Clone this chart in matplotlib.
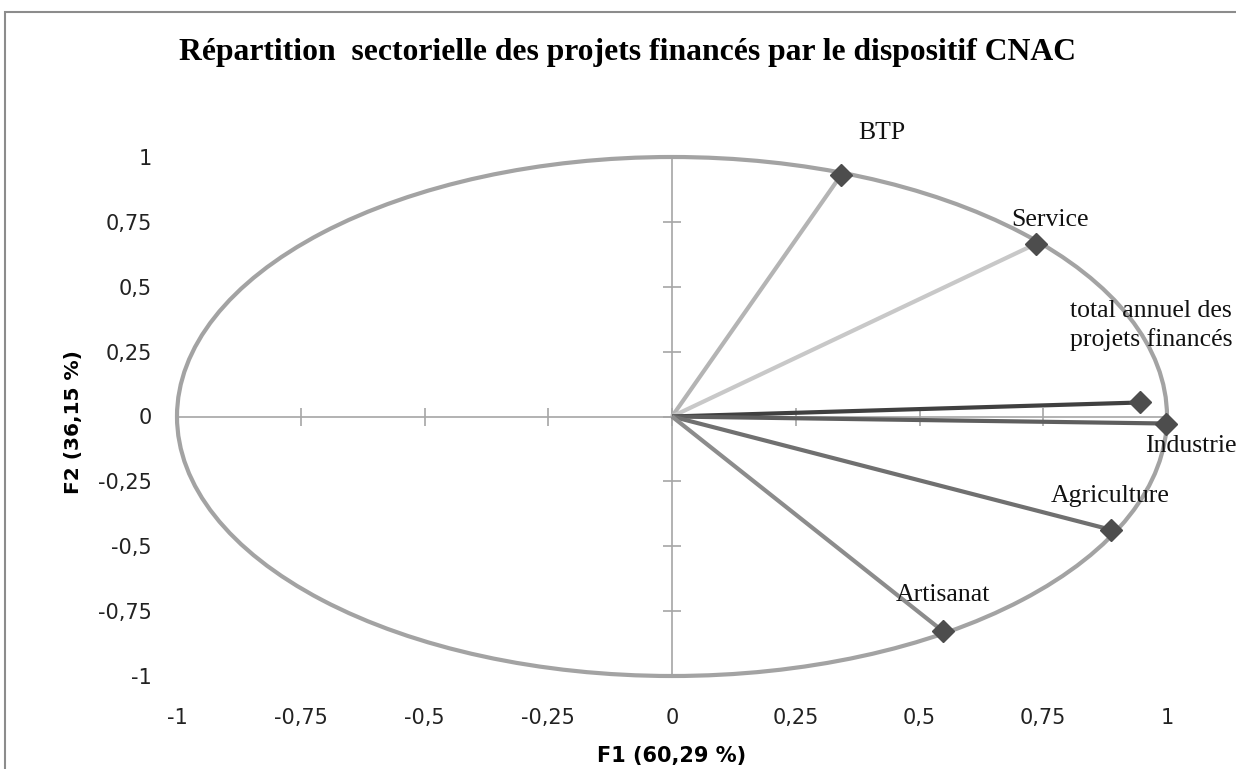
import numpy as np
import matplotlib.pyplot as plt
from matplotlib.patches import Ellipse, Rectangle
from matplotlib.ticker import FuncFormatter, FixedLocator

# coordonnees des variables sur F1 / F2
sectors = ["BTP", "Service", "total annuel des\nprojets financés", "Industrie", "Agriculture", "Artisanat"]
f1 = [0.341, 0.736, 0.945, 0.997, 0.886, 0.547]
f2 = [0.929, 0.666, 0.054, -0.027, -0.436, -0.827]
tick_values = [-1, -0.75, -0.5, -0.25, 0, 0.25, 0.5, 0.75, 1]
line_colors = ["#b4b4b4", "#c8c8c8", "#404040", "#5e5e5e", "#707070", "#8c8c8c"]
# decalage des etiquettes (pixels) et alignement
label_offsets = [(41, 42), (14, 24), (-70, 77), (-20, -22), (0, 34), (0, 36)]
label_ha = ["center", "center", "left", "left", "center", "center"]

fig = plt.figure(figsize=(12.36, 7.69), dpi=100)
ax = fig.add_axes([177 / 1236, 93 / 769, 990 / 1236, 519 / 769])

# cercle des correlations
circle = Ellipse((0, 0), 2, 2, fill=False, edgecolor="#a3a3a3", lw=3, clip_on=False, zorder=2)
ax.add_patch(circle)

for x, y, c in zip(f1, f2, line_colors):
    ax.plot([0, x], [0, y], color=c, lw=3, solid_capstyle="butt", zorder=3, clip_on=False)
ax.plot(f1, f2, linestyle="none", marker="D", markersize=11, color="#4d4d4d", zorder=4, clip_on=False)

for name, x, y, off, ha in zip(sectors, f1, f2, label_offsets, label_ha):
    ax.annotate(name, (x, y), xytext=off, textcoords="offset pixels", ha=ha, va="center",
                fontsize=18.5, family="Liberation Serif", color="#111111", linespacing=1.3,
                annotation_clip=False, zorder=5)

ax.set_xlim(-1, 1)
ax.set_ylim(-1, 1)

# axes passant par l'origine
for s in ["top", "right"]:
    ax.spines[s].set_visible(False)
for s in ["left", "bottom"]:
    ax.spines[s].set_position(("data", 0))
    ax.spines[s].set_color("#a6a6a6")
    ax.spines[s].set_linewidth(1.2)
    ax.spines[s].set_zorder(1)
ax.xaxis.set_major_locator(FixedLocator(tick_values))
ax.yaxis.set_major_locator(FixedLocator(tick_values))
ax.tick_params(direction="inout", length=13, width=1.2, color="#a6a6a6",
               labelleft=False, labelbottom=False)

fmt = FuncFormatter(lambda v, p: f"{v:g}".replace(".", ","))
secx = ax.secondary_xaxis("bottom")
secy = ax.secondary_yaxis("left")
for sec in (secx, secy):
    for s in sec.spines.values():
        s.set_visible(False)
secx.xaxis.set_major_locator(FixedLocator(tick_values))
secy.yaxis.set_major_locator(FixedLocator(tick_values))
secx.xaxis.set_major_formatter(fmt)
secy.yaxis.set_major_formatter(fmt)
secx.tick_params(length=0, pad=23, labelsize=15, labelcolor="#222222")
secy.tick_params(length=0, pad=18, labelsize=15, labelcolor="#222222")
secx.set_xlabel("F1 (60,29 %)", fontsize=15, fontweight="bold", labelpad=13)
ax.set_ylabel("F2 (36,15 %)", fontsize=14.5, fontweight="bold")
ax.yaxis.set_label_coords(-0.095, 0.49)

fig.text(0.508, 0.932, "Répartition  sectorielle des projets financés par le dispositif CNAC",
         ha="center", va="center", fontsize=22.8, fontweight="bold", family="Liberation Serif")

# cadre du graphique
fig.patches.append(Rectangle((5 / 1236, -0.1), 1.2, 1.1 - 12 / 769, transform=fig.transFigure,
                             fill=False, edgecolor="#8c8c8c", lw=1.5))

fig.savefig("out.png", dpi=100)
